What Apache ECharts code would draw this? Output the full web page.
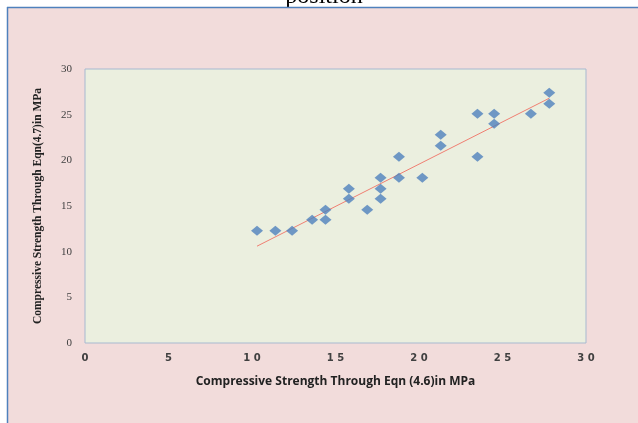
<!DOCTYPE html>
<html><head><meta charset="utf-8">
<script src="https://cdn.jsdelivr.net/npm/echarts@6/dist/echarts.min.js"></script>
<style>html,body{margin:0;padding:0;background:#fff}#c{width:638px;height:423px}</style>
</head><body><div id="c"></div>
<script>
var xValues = [10.3, 11.4, 12.4, 13.6, 14.4, 14.4, 15.8, 15.8, 16.9, 17.7, 17.7, 17.7, 18.8, 18.8, 20.2, 21.3, 21.3, 23.5, 23.5, 24.5, 24.5, 26.7, 27.8, 27.8];
var yValues = [12.3, 12.3, 12.3, 13.5, 14.6, 13.5, 16.9, 15.8, 14.6, 18.1, 16.9, 15.8, 20.4, 18.1, 18.1, 22.8, 21.6, 25.1, 20.4, 25.1, 24.0, 25.1, 27.4, 26.2];
var trendX = [10.3, 27.8];
var trendY = [10.6, 26.8];
var xTicks = [0, 5, 10, 15, 20, 25, 30];
var yTicks = [0, 5, 10, 15, 20, 25, 30];

var pts = xValues.map(function (x, i) { return [x, yValues[i]]; });
var trend = trendX.map(function (x, i) { return [x, trendY[i]]; });

var chart = echarts.init(document.getElementById('c'));
chart.setOption({
  backgroundColor: '#F2DCDB',
  animation: false,
  graphic: [
    { type: 'rect', z: -10, shape: { x: 0, y: 0, width: 638, height: 7 }, style: { fill: '#ffffff' } },
    { type: 'rect', z: -10, shape: { x: 0, y: 0, width: 7, height: 423 }, style: { fill: '#ffffff' } },
    { type: 'text', z: -9, x: 324, y: -3, style: { text: 'position', font: '24px "Liberation Serif", serif', fill: '#000', align: 'center', verticalAlign: 'middle' } },
    { type: 'rect', z: -8, shape: { x: 8, y: 8, width: 640, height: 420 }, style: { fill: '#F2DCDB' } },
    { type: 'line', z: -7, shape: { x1: 7, y1: 7.5, x2: 638, y2: 7.5 }, style: { stroke: '#4F81BD', lineWidth: 1.5 } },
    { type: 'line', z: -7, shape: { x1: 7.5, y1: 7, x2: 7.5, y2: 423 }, style: { stroke: '#4F81BD', lineWidth: 1.5 } }
  ],
  grid: { left: 85, right: 52, top: 69, bottom: 80, show: true, backgroundColor: '#EBEFDF', borderColor: '#A7B9D0', borderWidth: 1 },
  xAxis: {
    type: 'value', min: 0, max: 30, interval: 5,
    name: 'Compressive Strength Through Eqn (4.6)in MPa', nameLocation: 'middle', nameGap: 33,
    nameTextStyle: { fontFamily: '"Open Sans", sans-serif', fontSize: 12, fontWeight: 'bold', color: '#222' },
    axisLine: { show: false }, axisTick: { show: false }, splitLine: { show: false },
    axisLabel: {
      margin: 10, color: '#404040', fontFamily: '"DejaVu Sans", sans-serif', fontSize: 10, fontWeight: 'bold',
      formatter: function (v) { return xTicks.indexOf(v) >= 0 ? String(v).split('').join(' ') : ''; }
    }
  },
  yAxis: {
    type: 'value', min: 0, max: 30, interval: 5,
    name: 'Compressive Strength Through Eqn(4.7)in MPa', nameLocation: 'middle', nameGap: 41,
    nameTextStyle: { fontFamily: '"Liberation Serif", serif', fontSize: 11.5, fontWeight: 'bold', color: '#222' },
    axisLine: { show: false }, axisTick: { show: false }, splitLine: { show: false },
    axisLabel: {
      margin: 13, color: '#404040', fontFamily: '"Liberation Serif", serif', fontSize: 11,
      formatter: function (v) { return yTicks.indexOf(v) >= 0 ? String(v) : ''; }
    }
  },
  series: [
    { type: 'line', data: trend, symbol: 'none', lineStyle: { color: '#F07F72', width: 1 }, z: 2 },
    { type: 'scatter', data: pts, symbol: 'diamond', symbolSize: [12, 10], itemStyle: { color: '#4F81BD' }, z: 3 }
  ]
});
</script></body></html>
